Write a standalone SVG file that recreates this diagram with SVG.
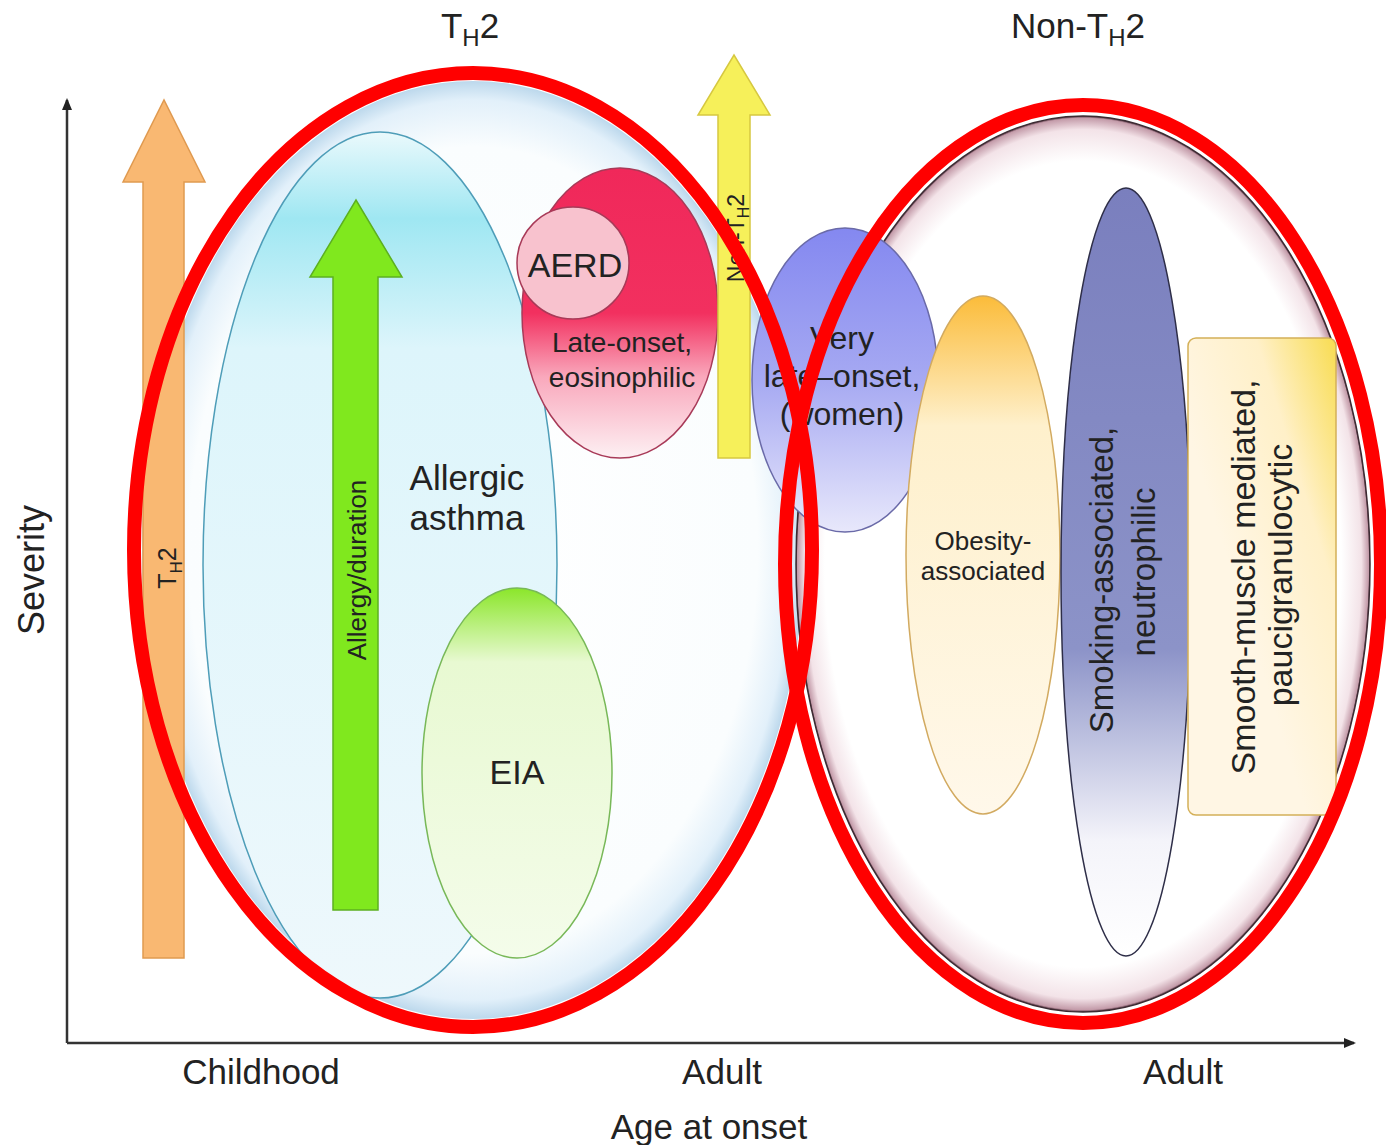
<svg xmlns="http://www.w3.org/2000/svg" width="1386" height="1145" viewBox="0 0 1386 1145">
<style>
text{font-family:"Liberation Sans",Arial,sans-serif;fill:#222222;}
.lbl{font-size:35px;}
.mid{text-anchor:middle;}
.axis{stroke:#333;stroke-width:2.5;fill:none;}
.red{fill:none;stroke:#FF0000;stroke-width:14;}
</style>
<defs>
<marker id="ah" markerWidth="12" markerHeight="12" refX="10" refY="5" orient="auto" markerUnits="userSpaceOnUse">
<path d="M0,0 L12,5 L0,10 z" fill="#222"/>
</marker>
<radialGradient id="gLeft" cx="0.5" cy="0.5" r="0.5">
<stop offset="0" stop-color="#FFFFFF"/>
<stop offset="0.86" stop-color="#FAFDFE"/>
<stop offset="0.96" stop-color="#E2F0FA"/>
<stop offset="1" stop-color="#BCD8EC"/>
</radialGradient>
<radialGradient id="gRight" cx="0.5" cy="0.5" r="0.5">
<stop offset="0" stop-color="#FFFFFF"/>
<stop offset="0.9" stop-color="#FFFFFF"/>
<stop offset="0.97" stop-color="#F3E3E8"/>
<stop offset="0.995" stop-color="#C49CAA"/>
<stop offset="1" stop-color="#553240"/>
</radialGradient>
<linearGradient id="gBlue" x1="0" y1="0" x2="0" y2="1">
<stop offset="0" stop-color="#EAF9FC"/>
<stop offset="0.1" stop-color="#9FE7F2"/>
<stop offset="0.25" stop-color="#DDF5FB"/>
<stop offset="1" stop-color="#EEF8FC"/>
</linearGradient>
<linearGradient id="gEIA" x1="0" y1="0" x2="0" y2="1">
<stop offset="0" stop-color="#8BE62A"/>
<stop offset="0.2" stop-color="#E8F9D2"/>
<stop offset="1" stop-color="#F4FCEA"/>
</linearGradient>
<linearGradient id="gLate" x1="0" y1="0" x2="0" y2="1">
<stop offset="0" stop-color="#F0285A"/>
<stop offset="0.5" stop-color="#F2305F"/>
<stop offset="0.72" stop-color="#F9A8BC"/>
<stop offset="1" stop-color="#FDF0F3"/>
</linearGradient>
<linearGradient id="gVery" x1="0" y1="0" x2="0" y2="1">
<stop offset="0" stop-color="#8488F0"/>
<stop offset="0.5" stop-color="#A6A9F2"/>
<stop offset="1" stop-color="#E8E8FB"/>
</linearGradient>
<linearGradient id="gObes" x1="0" y1="0" x2="0" y2="1">
<stop offset="0" stop-color="#FBBC3A"/>
<stop offset="0.25" stop-color="#FEF0CC"/>
<stop offset="1" stop-color="#FFF8EA"/>
</linearGradient>
<linearGradient id="gSmok" x1="0" y1="0" x2="0" y2="1">
<stop offset="0" stop-color="#7A7FBE"/>
<stop offset="0.6" stop-color="#8C93C8"/>
<stop offset="0.85" stop-color="#F4F4FA"/>
<stop offset="1" stop-color="#FFFFFF"/>
</linearGradient>
<linearGradient id="gBox" x1="1" y1="0" x2="0.4" y2="0.6">
<stop offset="0" stop-color="#F8DC50"/>
<stop offset="0.45" stop-color="#FFF0C8"/>
<stop offset="1" stop-color="#FFF6E4"/>
</linearGradient>
</defs>

<g id="region-shading">
<ellipse cx="473" cy="550" rx="331" ry="469" fill="url(#gLeft)"/>
<ellipse cx="1083" cy="564" rx="287" ry="448" fill="url(#gRight)" stroke="#3C2A32" stroke-width="1.5"/>
</g>

<g id="connectors">
<line class="axis" x1="67" y1="1043" x2="67" y2="100" marker-end="url(#ah)"/>
<line class="axis" x1="67" y1="1043" x2="1354" y2="1043" marker-end="url(#ah)"/>
</g>

<g id="arrow-th2">
<polygon points="143,958 184,958 184,182 205,182 164,100 123,182 143,182" fill="#F9B872" stroke="#E09A50" stroke-width="1.5"/>
<text transform="translate(176,568) rotate(-90)" class="mid" font-size="25">T<tspan font-size="17" dy="6">H</tspan><tspan dy="-6">2</tspan></text>
</g>

<g id="allergic-asthma">
<ellipse cx="380" cy="565" rx="177" ry="433" fill="url(#gBlue)" stroke="#4E9DB8" stroke-width="1.5"/>
<text class="lbl mid" x="467" y="490">Allergic</text>
<text class="lbl mid" x="467" y="530">asthma</text>
</g>

<g id="arrow-allergy">
<polygon points="333,910 378,910 378,277 402,277 356,200 310,277 333,277" fill="#80E81E" stroke="#5CB020" stroke-width="1.5"/>
<text transform="translate(366,570) rotate(-90)" class="mid" font-size="26">Allergy/duration</text>
</g>

<g id="eia">
<ellipse cx="517" cy="773" rx="95" ry="185" fill="url(#gEIA)" stroke="#78B858" stroke-width="1.5"/>
<text class="mid" x="517" y="784" font-size="34">EIA</text>
</g>

<g id="late-onset">
<ellipse cx="620" cy="313" rx="98" ry="145" fill="url(#gLate)" stroke="#A83A58" stroke-width="1.5"/>
<text class="mid" x="622" y="352" font-size="28">Late-onset,</text>
<text class="mid" x="622" y="387" font-size="28">eosinophilic</text>
</g>

<g id="aerd">
<circle cx="573" cy="263" r="56" fill="#F8C2CE" stroke="#A83A58" stroke-width="1.5"/>
<text class="mid" x="575" y="277" font-size="34">AERD</text>
</g>

<g id="arrow-nonth2">
<polygon points="718,458 750,458 750,115 770,115 734,55 698,115 718,115" fill="#F6F05A" stroke="#D6C840" stroke-width="1.5"/>
<text transform="translate(744,238) rotate(-90)" class="mid" font-size="23">Non-T<tspan font-size="16" dy="5">H</tspan><tspan dy="-5">2</tspan></text>
</g>

<g id="very-late-onset">
<ellipse cx="845" cy="380" rx="93" ry="152" fill="url(#gVery)" stroke="#6A6AA8" stroke-width="1.5"/>
<text class="mid" x="842" y="349" font-size="32">Very</text>
<text class="mid" x="842" y="387" font-size="32">late–onset,</text>
<text class="mid" x="842" y="425" font-size="32">(women)</text>
</g>

<g id="obesity">
<ellipse cx="983" cy="555" rx="77" ry="259" fill="url(#gObes)" stroke="#D2AA60" stroke-width="1.5"/>
<text class="mid" x="983" y="550" font-size="26">Obesity-</text>
<text class="mid" x="983" y="580" font-size="26">associated</text>
</g>

<g id="smoking">
<ellipse cx="1126" cy="572" rx="65" ry="384" fill="url(#gSmok)" stroke="#2E2E48" stroke-width="1.5"/>
<text transform="translate(1113,580) rotate(-90)" class="mid" font-size="33">Smoking-associated,</text>
<text transform="translate(1155,572) rotate(-90)" class="mid" font-size="33">neutrophilic</text>
</g>

<g id="smooth-muscle">
<rect x="1188" y="338" width="148" height="477" rx="8" fill="url(#gBox)" stroke="#D4B058" stroke-width="1.5"/>
<text transform="translate(1255,577) rotate(-90)" class="mid" font-size="34">Smooth-muscle mediated,</text>
<text transform="translate(1292,575) rotate(-90)" class="mid" font-size="34">paucigranulocytic</text>
</g>

<g id="th2-group">
<ellipse class="red" cx="473" cy="550" rx="339" ry="477"/>
<text class="lbl mid" x="470" y="38">T<tspan font-size="24" dy="8">H</tspan><tspan dy="-8">2</tspan></text>
</g>

<g id="non-th2-group">
<ellipse class="red" cx="1083" cy="564" rx="298" ry="459"/>
<text class="lbl mid" x="1078" y="38">Non-T<tspan font-size="24" dy="8">H</tspan><tspan dy="-8">2</tspan></text>
</g>

<g id="axis-labels">
<text transform="translate(44,570) rotate(-90)" class="mid" font-size="36">Severity</text>
<text class="lbl mid" x="261" y="1084">Childhood</text>
<text class="lbl mid" x="722" y="1084">Adult</text>
<text class="lbl mid" x="1183" y="1084">Adult</text>
<text class="lbl mid" x="709" y="1139">Age at onset</text>
</g>
</svg>
